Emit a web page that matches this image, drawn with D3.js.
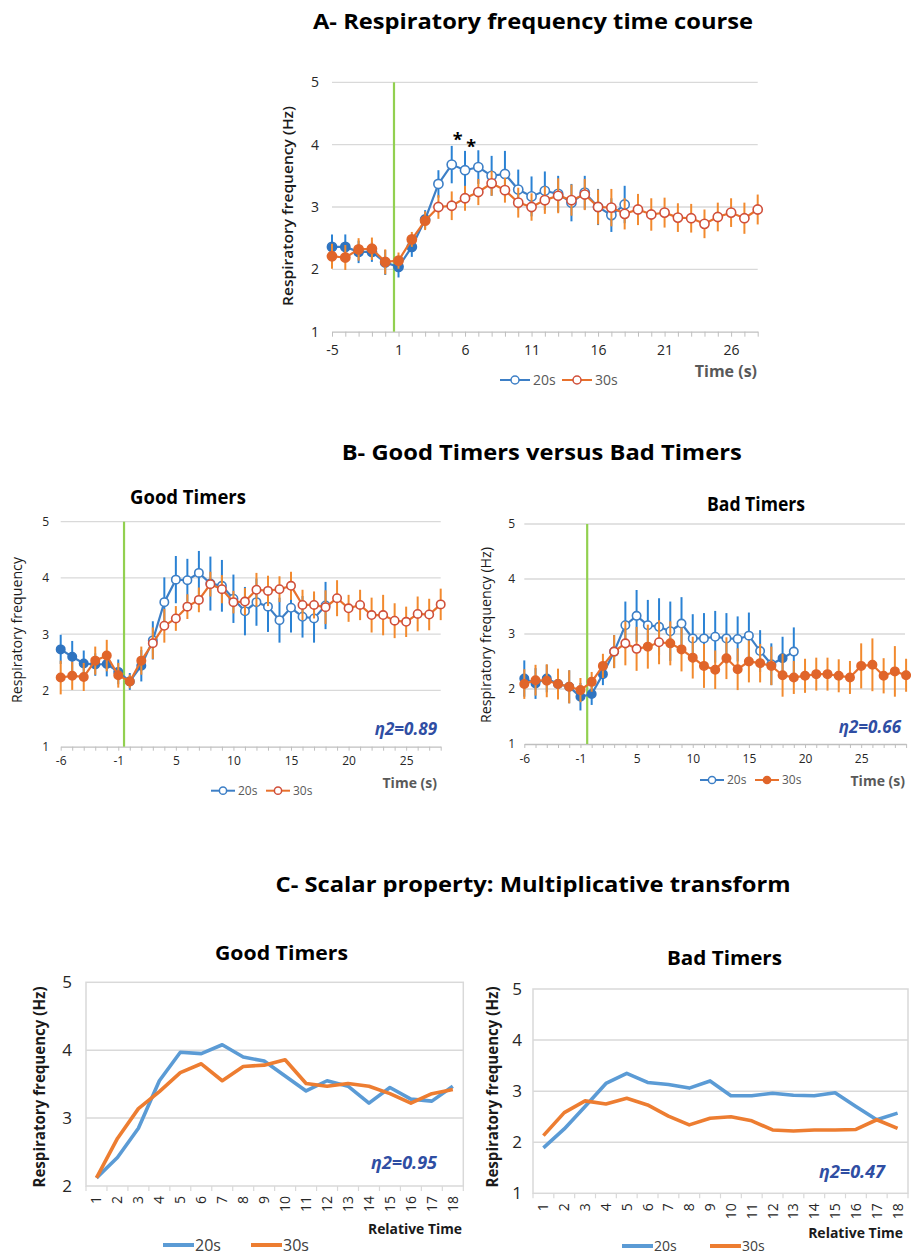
<!DOCTYPE html>
<html><head><meta charset="utf-8">
<script src="https://cdn.jsdelivr.net/npm/d3@7"></script>
<style>body{margin:0;background:#fff}svg{display:block}text{font-family:"Open Sans","Liberation Sans",sans-serif}</style>
</head><body>
<script>
// ---------- DATA ----------
const aCats = [-5,-4,-3,-2,-1,1,2,3,4,5,6,7,8,9,10,11,12,13,14,15,16,17,18,19,20,21,22,23,24,25,26,27,28];
const a20 = [2.36,2.36,2.28,2.28,2.11, 2.04,2.36,2.80,3.37,3.68,3.59,3.64,3.50,3.53,3.28,3.17,3.26,3.21,3.07,3.23,3.00,2.87,3.04];
const a20err = [0.20,0.20,0.18,0.16,0.20, 0.17,0.16,0.15,0.22,0.30,0.31,0.27,0.32,0.37,0.32,0.32,0.31,0.29,0.30,0.27,0.29,0.27,0.30];
const a30 = [2.21,2.19,2.32,2.33,2.12, 2.14,2.48,2.78,3.00,3.02,3.14,3.24,3.38,3.27,3.07,3.00,3.11,3.18,3.11,3.20,3.00,2.99,2.89,2.96,2.88,2.91,2.83,2.82,2.73,2.84,2.91,2.82,2.96];
const a30err = [0.20,0.20,0.18,0.18,0.20, 0.13,0.12,0.15,0.19,0.23,0.20,0.21,0.20,0.20,0.24,0.22,0.22,0.28,0.25,0.25,0.28,0.30,0.25,0.25,0.26,0.24,0.23,0.23,0.23,0.23,0.23,0.25,0.24];

const bCatsGood = [-6,-5,-4,-3,-2,-1,1,2,3,4,5,6,7,8,9,10,11,12,13,14,15,16,17,18,19,20,21,22,23,24,25,26,27,28];
const bg20 = [2.73,2.60,2.48,2.46,2.47,2.33, 2.16,2.44,2.89,3.57,3.97,3.96,4.09,3.90,3.86,3.63,3.41,3.57,3.49,3.25,3.47,3.31,3.28,3.51];
const bg20err = [0.26,0.28,0.23,0.20,0.22,0.22, 0.15,0.28,0.34,0.44,0.42,0.38,0.39,0.48,0.46,0.43,0.43,0.42,0.45,0.40,0.44,0.37,0.43,0.42];
const bg30 = [2.23,2.26,2.24,2.53,2.62,2.27, 2.16,2.53,2.84,3.15,3.28,3.49,3.61,3.89,3.80,3.57,3.58,3.79,3.77,3.80,3.86,3.52,3.52,3.48,3.64,3.46,3.52,3.34,3.34,3.24,3.22,3.36,3.35,3.53];
const bg30err = [0.30,0.25,0.25,0.25,0.28,0.22, 0.12,0.25,0.28,0.30,0.22,0.22,0.22,0.22,0.25,0.20,0.24,0.30,0.27,0.23,0.25,0.27,0.24,0.30,0.32,0.24,0.27,0.31,0.36,0.31,0.27,0.31,0.28,0.28];

const bCatsBad = [-6,-5,-4,-3,-2,-1,1,2,3,4,5,6,7,8,9,10,11,12,13,14,15,16,17,18,19,20,21,22,23,24,25,26,27,28,29];
const bb20 = [2.19,2.10,2.19,2.09,2.04,1.86, 1.91,2.27,2.68,3.16,3.33,3.16,3.13,3.05,3.19,2.92,2.92,2.95,2.92,2.91,2.97,2.69,2.45,2.56,2.68];
const bb20err = [0.33,0.28,0.25,0.25,0.30,0.25, 0.20,0.20,0.30,0.43,0.47,0.46,0.52,0.54,0.48,0.44,0.46,0.47,0.46,0.41,0.42,0.38,0.38,0.39,0.44];
const bb30 = [2.09,2.16,2.15,2.09,2.04,1.98, 2.13,2.42,2.68,2.83,2.73,2.77,2.85,2.83,2.72,2.57,2.42,2.35,2.56,2.36,2.50,2.47,2.42,2.25,2.21,2.24,2.27,2.27,2.24,2.21,2.42,2.44,2.24,2.32,2.25];
const bb30err = [0.27,0.28,0.30,0.28,0.30,0.22, 0.18,0.22,0.30,0.40,0.40,0.40,0.40,0.40,0.40,0.38,0.40,0.35,0.38,0.38,0.38,0.35,0.35,0.39,0.30,0.31,0.30,0.30,0.30,0.30,0.41,0.48,0.32,0.46,0.30];

const cCats = [1,2,3,4,5,6,7,8,9,10,11,12,13,14,15,16,17,18];
const cg20 = [2.12,2.42,2.85,3.55,3.97,3.95,4.08,3.90,3.84,3.62,3.40,3.55,3.47,3.22,3.45,3.28,3.25,3.47];
const cg30 = [2.12,2.70,3.14,3.39,3.67,3.80,3.55,3.76,3.78,3.86,3.51,3.47,3.51,3.47,3.36,3.22,3.36,3.42];
const cb20 = [1.89,2.26,2.70,3.15,3.35,3.17,3.13,3.06,3.20,2.91,2.91,2.96,2.92,2.91,2.97,2.70,2.44,2.57];
const cb30 = [2.13,2.58,2.81,2.75,2.86,2.73,2.51,2.34,2.47,2.50,2.42,2.24,2.22,2.24,2.24,2.25,2.44,2.27];

const yTicksA = [1,2,3,4,5];
const yTicksCg = [2,3,4,5];
const seriesNames = ["20s","30s"];
const etaLabels = ["η2=0.89","η2=0.66","η2=0.95","η2=0.47"];

// ---------- STYLE ----------
const C = {
  blueLine:"#3d7fc6", blueErr:"#2a82d4", blueFill:"#2f74c0",
  orangeLine:"#e8712c", orangeErr:"#f28a2e", orangeFill:"#e0652a", orangeOpen:"#d04f3a",
  grid:"#d9d9d9", axis:"#bfbfbf", green:"#92d050", eta:"#2f4ea3",
  cBlue:"#5b9bd5", cOrange:"#ed7d31"
};

const svg = d3.select("body").append("svg").attr("width",911).attr("height",1257);
svg.append("rect").attr("width",911).attr("height",1257).attr("fill","#fff");

function txt(x,y,s,o={}){
  const t = svg.append("text").attr("x",x).attr("y",y).text(s)
    .attr("font-size",o.size||14).attr("fill",o.fill||"#000")
    .attr("font-weight",o.weight||"normal").attr("text-anchor",o.anchor||"start");
  if(o.italic) t.attr("font-style","italic");
  if(o.len) t.attr("textLength",o.len).attr("lengthAdjust","spacingAndGlyphs");
  if(o.rot) t.attr("transform",`rotate(-90,${x},${y})`);
  return t;
}

// ---------- ERROR BAR PANEL ----------
function errPanel(cfg){
  const g = svg.append("g");
  const x = d3.scalePoint().domain(d3.range(cfg.cats.length)).range([cfg.x0,cfg.x1]);
  const y = d3.scaleLinear().domain([1,5]).range([cfg.yBot,cfg.yTop]);
  g.selectAll(".grid").data(yTicksA.slice(1)).join("line")
    .attr("x1",cfg.x0).attr("x2",cfg.gridEnd).attr("y1",d=>y(d)).attr("y2",d=>y(d))
    .attr("stroke",C.grid).attr("stroke-width",1.3);
  const ax = g.append("g").attr("transform",`translate(0,${y(1)})`)
    .call(d3.axisBottom(x).tickSize(cfg.tick).tickSizeOuter(0).tickPadding(cfg.pad)
      .tickFormat(i => i%5===0 ? cfg.cats[i] : ""));
  ax.select(".domain").attr("stroke",C.axis).attr("stroke-width",1.3);
  ax.selectAll(".tick line").attr("stroke",C.axis);
  ax.selectAll(".tick text").attr("font-size",cfg.fs).attr("fill","#262626")
    .attr("font-family",'"Open Sans",sans-serif');
  g.selectAll(".yl").data(yTicksA).join("text")
    .attr("x",cfg.yLabX).attr("y",d=>y(d)+cfg.fs*0.36).attr("text-anchor","end")
    .attr("font-size",cfg.fs).attr("fill","#262626").text(d=>d);
  const gx = x(cfg.onset[0]) + cfg.onset[1]*x.step();
  g.append("line").attr("x1",gx).attr("x2",gx).attr("y1",y(5)).attr("y2",y(1))
    .attr("stroke",C.green).attr("stroke-width",2.2);
  cfg.series.forEach(s=>{
    const sg = g.append("g");
    sg.selectAll("line.err").data(s.vals).join("line")
      .attr("x1",(d,i)=>x(i)).attr("x2",(d,i)=>x(i))
      .attr("y1",(d,i)=>y(d - s.err[i])).attr("y2",(d,i)=>y(d + s.err[i]))
      .attr("stroke",s.errColor).attr("stroke-width",2);
    sg.append("path").datum(s.vals)
      .attr("d",d3.line().x((d,i)=>x(i)).y(d=>y(d)))
      .attr("fill","none").attr("stroke",s.line).attr("stroke-width",2.2);
    sg.selectAll("circle").data(s.vals).join("circle")
      .attr("cx",(d,i)=>x(i)).attr("cy",d=>y(d)).attr("r",cfg.r)
      .attr("fill",(d,i)=>s.open(i)?"#fff":s.fill)
      .attr("stroke",(d,i)=>s.open(i)?s.openStroke:s.fill).attr("stroke-width",1.6);
  });
  return {x,y};
}

function legendErr(y,w,r,fs,items){
  items.forEach(it=>{
    svg.append("line").attr("x1",it.x).attr("x2",it.x+w).attr("y1",y).attr("y2",y).attr("stroke",it.line).attr("stroke-width",2);
    svg.append("circle").attr("cx",it.x+w/2).attr("cy",y).attr("r",r).attr("fill",it.fill||"#fff").attr("stroke",it.stroke).attr("stroke-width",1.5);
    txt(it.x+w+3,y+fs*0.36,it.name,{size:fs,fill:"#595959"});
  });
}

// ---------- PANEL A ----------
txt(533,29,"A- Respiratory frequency time course",{size:22,weight:"bold",anchor:"middle",len:440});
const A = errPanel({
  cats:aCats, x0:332, x1:757.7, yTop:82.3, yBot:331.7, gridEnd:757.7,
  tick:5, pad:8, fs:14, yLabX:319, r:4.6, onset:[4,0.66],
  series:[
    {vals:a20, err:a20err, line:C.blueLine, errColor:C.blueErr, fill:C.blueFill, openStroke:C.blueLine, open:i=>i>=8},
    {vals:a30, err:a30err, line:C.orangeLine, errColor:C.orangeErr, fill:C.orangeFill, openStroke:C.orangeOpen, open:i=>i>=8}
  ]
});
txt(293,206,"Respiratory frequency (Hz)",{size:15,weight:"600",anchor:"middle",len:200,rot:true,fill:"#1a1a1a"});
txt(A.x(9)+6,A.y(4.1)+8,"*",{size:18,weight:"bold",anchor:"middle"});
txt(A.x(10)+6,A.y(3.99)+8,"*",{size:18,weight:"bold",anchor:"middle"});
txt(757,377,"Time (s)",{size:16,weight:"bold",anchor:"end",fill:"#595959"});
legendErr(380,30,4,14,[
  {x:500,name:seriesNames[0],line:C.blueLine,stroke:C.blueLine},
  {x:562,name:seriesNames[1],line:C.orangeLine,stroke:C.orangeOpen}]);

// ---------- PANEL B ----------
txt(541.7,460,"B- Good Timers versus Bad Timers",{size:22,weight:"bold",anchor:"middle",len:400});
txt(188,504,"Good Timers",{size:19,weight:"bold",anchor:"middle",len:116});
txt(756,511,"Bad Timers",{size:19,weight:"bold",anchor:"middle",len:98});

errPanel({
  cats:bCatsGood, x0:60.7, x1:440.7, yTop:521.7, yBot:746.7, gridEnd:440.7,
  tick:4, pad:6, fs:12, yLabX:49, r:4.2, onset:[5,0.5],
  series:[
    {vals:bg20, err:bg20err, line:C.blueLine, errColor:C.blueErr, fill:C.blueFill, openStroke:C.blueLine, open:i=>i>=8},
    {vals:bg30, err:bg30err, line:C.orangeLine, errColor:C.orangeErr, fill:C.orangeFill, openStroke:C.orangeOpen, open:i=>i>=8}
  ]
});
txt(22,630,"Respiratory frequency",{size:14,anchor:"middle",len:146,rot:true,fill:"#1a1a1a"});
txt(437,735,etaLabels[0],{size:17,weight:"bold",italic:true,anchor:"end",fill:C.eta});
txt(437,788,"Time (s)",{size:14,weight:"bold",anchor:"end",fill:"#595959"});
legendErr(790.7,24,3.6,12,[
  {x:211,name:seriesNames[0],line:C.blueLine,stroke:C.blueLine},
  {x:266,name:seriesNames[1],line:C.orangeLine,stroke:C.orangeOpen}]);

const openB20 = new Set([8,9,10,11,12,13,14,15,16,17,18,19,20,21,22,24]);
const openB30 = new Set([8,9,10,12]);
errPanel({
  cats:bCatsBad, x0:524.3, x1:906.1, yTop:524, yBot:744, gridEnd:905,
  tick:4, pad:6, fs:12, yLabX:515, r:4.2, onset:[5,0.6],
  series:[
    {vals:bb20, err:bb20err, line:C.blueLine, errColor:C.blueErr, fill:C.blueFill, openStroke:C.blueLine, open:i=>openB20.has(i)},
    {vals:bb30, err:bb30err, line:C.orangeLine, errColor:C.orangeErr, fill:C.orangeFill, openStroke:C.orangeOpen, open:i=>openB30.has(i)}
  ]
});
txt(491,635,"Respiratory frequency (Hz)",{size:14,anchor:"middle",len:176,rot:true,fill:"#1a1a1a"});
txt(901,733,etaLabels[1],{size:17,weight:"bold",italic:true,anchor:"end",fill:C.eta});
txt(905,786,"Time (s)",{size:14,weight:"bold",anchor:"end",fill:"#595959"});
legendErr(780,24,3.6,12,[
  {x:700,name:seriesNames[0],line:C.blueLine,stroke:C.blueLine},
  {x:755,name:seriesNames[1],line:C.orangeLine,stroke:C.orangeFill,fill:C.orangeFill}]);

// ---------- PANEL C ----------
txt(533,892,"C- Scalar property: Multiplicative transform",{size:22,weight:"bold",anchor:"middle",len:515});
txt(281.5,960,"Good Timers",{size:19,weight:"bold",anchor:"middle",len:133});
txt(724.5,965,"Bad Timers",{size:19,weight:"bold",anchor:"middle",len:115});

function linePanel(cfg){
  const g = svg.append("g");
  const x = d3.scaleBand().domain(cfg.cats).range([cfg.x0,cfg.x1]);
  const y = d3.scaleLinear().domain(cfg.yDom).range([cfg.yBot,cfg.yTop]);
  g.selectAll(".grid").data(cfg.yTicks.slice(1,-1)).join("line")
    .attr("x1",cfg.x0).attr("x2",cfg.x1).attr("y1",d=>y(d)).attr("y2",d=>y(d))
    .attr("stroke",C.grid).attr("stroke-width",1.5);
  g.append("rect").attr("x",cfg.x0).attr("y",cfg.yTop).attr("width",cfg.x1-cfg.x0).attr("height",cfg.yBot-cfg.yTop)
    .attr("fill","none").attr("stroke",C.grid).attr("stroke-width",1.5);
  const edges = cfg.cats.map(c=>x(c)).concat([cfg.x1]);
  g.selectAll(".tk").data(edges).join("line")
    .attr("x1",d=>d).attr("x2",d=>d).attr("y1",cfg.yBot).attr("y2",cfg.yBot+5)
    .attr("stroke",C.grid).attr("stroke-width",1.2);
  g.selectAll(".xl").data(cfg.cats).join("text")
    .attr("transform",c=>`translate(${x(c)+x.bandwidth()/2+5},${cfg.yBot+10}) rotate(-90)`)
    .attr("text-anchor","end").attr("font-size",14).attr("fill","#262626").text(c=>c);
  g.selectAll(".yl").data(cfg.yTicks).join("text")
    .attr("x",cfg.yLabX).attr("y",d=>y(d)+6).attr("text-anchor","end")
    .attr("font-size",17).attr("fill","#262626").text(d=>d);
  cfg.series.forEach(s=>{
    g.append("path").datum(s.vals)
      .attr("d",d3.line().x((d,i)=>x(cfg.cats[i])+x.bandwidth()/2).y(d=>y(d)))
      .attr("fill","none").attr("stroke",s.color).attr("stroke-width",3.6).attr("stroke-linejoin","round");
  });
  return {x,y};
}
linePanel({cats:cCats, x0:86, x1:463.3, yTop:982.3, yBot:1186, yDom:[2,5], yTicks:yTicksCg, yLabX:72,
  series:[{vals:cg20,color:C.cBlue},{vals:cg30,color:C.cOrange}]});
txt(45,1087,"Respiratory frequency (Hz)",{size:16,weight:"bold",anchor:"middle",len:201,rot:true,fill:"#1a1a1a"});
txt(437,1169,etaLabels[2],{size:18,weight:"bold",italic:true,anchor:"end",fill:C.eta});
txt(462,1234,"Relative Time",{size:15,weight:"bold",anchor:"end",len:94,fill:"#1a1a1a"});

linePanel({cats:cCats, x0:533, x1:908, yTop:989, yBot:1193.3, yDom:[1,5], yTicks:yTicksA, yLabX:522,
  series:[{vals:cb20,color:C.cBlue},{vals:cb30,color:C.cOrange}]});
txt(498,1087,"Respiratory frequency (Hz)",{size:16,weight:"bold",anchor:"middle",len:201,rot:true,fill:"#1a1a1a"});
txt(885,1178,etaLabels[3],{size:18,weight:"bold",italic:true,anchor:"end",fill:C.eta});
txt(903,1238,"Relative Time",{size:14,weight:"bold",anchor:"end",fill:"#1a1a1a"});

function legendLine(y,fs,items){
  items.forEach(it=>{
    svg.append("line").attr("x1",it.x).attr("x2",it.x+31).attr("y1",y).attr("y2",y).attr("stroke",it.color).attr("stroke-width",4);
    txt(it.x+32,y+fs*0.36,it.name,{size:fs,fill:"#404040"});
  });
}
legendLine(1245,16,[{x:163,name:seriesNames[0],color:C.cBlue},{x:251,name:seriesNames[1],color:C.cOrange}]);
legendLine(1246,14,[{x:622,name:seriesNames[0],color:C.cBlue},{x:710,name:seriesNames[1],color:C.cOrange}]);
</script>
</body></html>
